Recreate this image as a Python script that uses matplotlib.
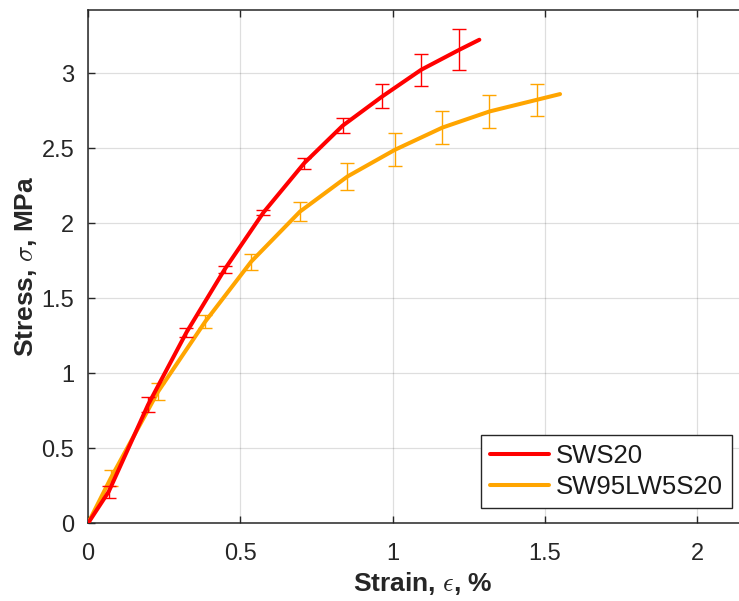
import matplotlib
matplotlib.use("Agg")
import matplotlib.pyplot as plt
import numpy as np

# ---- data ----
series_names = ["SWS20", "SW95LW5S20"]

sws20_strain = [0.068, 0.197, 0.323, 0.449, 0.576, 0.710, 0.836, 0.966, 1.094, 1.219]
sws20_stress = [0.211, 0.789, 1.271, 1.693, 2.071, 2.400, 2.649, 2.844, 3.022, 3.155]
sws20_err = [0.040, 0.050, 0.033, 0.022, 0.015, 0.036, 0.049, 0.080, 0.106, 0.136]
sws20_start = (0.0, 0.0)
sws20_end = (1.285, 3.222)

sw95_strain = [0.0745, 0.230, 0.385, 0.536, 0.696, 0.852, 1.008, 1.164, 1.318, 1.474]
sw95_stress = [0.300, 0.877, 1.344, 1.744, 2.077, 2.311, 2.489, 2.637, 2.744, 2.822]
sw95_err = [0.053, 0.055, 0.045, 0.053, 0.065, 0.089, 0.111, 0.108, 0.111, 0.108]
sw95_start = (0.0, 0.0)
sw95_end = (1.55, 2.86)

xticks = [0, 0.5, 1, 1.5, 2]
xticklabels = ["0", "0.5", "1", "1.5", "2"]
yticks = [0, 0.5, 1, 1.5, 2, 2.5, 3]
yticklabels = ["0", "0.5", "1", "1.5", "2", "2.5", "3"]

# ---- style ----
plt.rcParams['font.family'] = ['Liberation Sans', 'DejaVu Sans']
plt.rcParams['mathtext.fontset'] = 'cm'

RED = "#FF0000"
ORANGE = "#FFA500"
DARK = "#262626"

fig = plt.figure(figsize=(7.39, 6.01), dpi=100)
ax = fig.add_axes([0.1191, 0.1293, 0.9066, 0.854])

def full_line(start, xs, ys, end):
    lx = [start[0]] + list(xs) + [end[0]]
    ly = [start[1]] + list(ys) + [end[1]]
    return lx, ly

rx, ry = full_line(sws20_start, sws20_strain, sws20_stress, sws20_end)
ox, oy = full_line(sw95_start, sw95_strain, sw95_stress, sw95_end)

ax.plot(rx, ry, color=RED, lw=2.9, label=series_names[0], zorder=4,
        solid_capstyle='round', solid_joinstyle='round')
ax.plot(ox, oy, color=ORANGE, lw=2.9, label=series_names[1], zorder=3,
        solid_capstyle='round', solid_joinstyle='round')
ax.errorbar(sws20_strain, sws20_stress, yerr=sws20_err, fmt='none',
            ecolor=RED, elinewidth=1.0, capsize=4.8, capthick=1.0, zorder=4)
ax.errorbar(sw95_strain, sw95_stress, yerr=sw95_err, fmt='none',
            ecolor=ORANGE, elinewidth=1.0, capsize=4.8, capthick=1.0, zorder=3)

ax.set_xlim(0, 2.2)
ax.set_ylim(0, 3.42)
ax.set_xticks(xticks)
ax.set_xticklabels(xticklabels)
ax.set_yticks(yticks)
ax.set_yticklabels(yticklabels)

ax.grid(True, color="#000000", alpha=0.13, lw=0.9)
ax.set_axisbelow(True)
for s in ax.spines.values():
    s.set_color(DARK)
    s.set_linewidth(1.1)
ax.tick_params(direction='in', length=5, width=1.0, color=DARK,
               labelcolor=DARK, labelsize=17, top=True, right=True)
ax.tick_params(axis='x', pad=14)
ax.tick_params(axis='y', pad=10)

ax.set_xlabel(r"Strain, $\epsilon$, %", fontsize=19, fontweight='bold',
              color=DARK, labelpad=4)
ax.set_ylabel(r"Stress, $\sigma$, MPa", fontsize=19, fontweight='bold',
              color=DARK, labelpad=2)

leg = ax.legend(loc='lower right', bbox_to_anchor=(0.990, 0.154),
                bbox_transform=fig.transFigure, fontsize=18.5,
                handlelength=2.3, handletextpad=0.25, borderpad=0.35,
                labelspacing=0.3, borderaxespad=0, fancybox=False,
                framealpha=1, edgecolor=DARK)
leg.get_frame().set_linewidth(1.0)
for t in leg.get_texts():
    t.set_color("#1a1a1a")

fig.savefig("out.png", dpi=100)
